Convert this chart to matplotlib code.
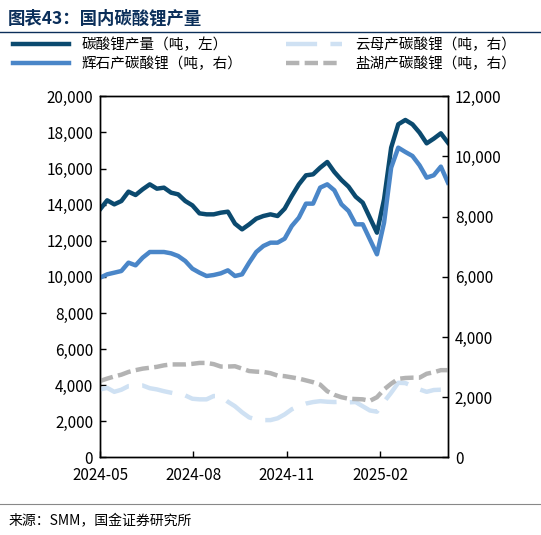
import matplotlib
matplotlib.use("Agg")
import matplotlib.pyplot as plt
import matplotlib.dates as mdates
import numpy as np
import pandas as pd

plt.rcParams['font.family'] = ['Noto Sans CJK SC', 'DejaVu Sans']

dates = pd.date_range("2024-05-01", periods=50, freq="7D")
carbonate = [13740,14238,14016,14200,14718,14533,14850,15124,14884,14940,14663,14570,14200,13960,13517,13462,13462,13554,13610,12945,
             12630,12908,13222,13370,13462,13370,13776,14478,15124,15623,15678,16047,16362,15808,15364,14995,14441,14108,13277,12446,
             14293,17156,18449,18689,18449,17987,17395,17654,17950,17433]
spodumene = [5973,6084,6139,6195,6472,6383,6638,6826,6826,6826,6782,6693,6527,6272,6139,6028,6061,6117,6217,6028,
             6084,6472,6826,7026,7136,7136,7269,7690,7967,8433,8433,8965,9075,8876,8411,8189,7746,7746,7247,6749,
             7801,9629,10294,10150,10017,9707,9297,9375,9663,9131]
lepidolite = [2260,2310,2180,2250,2370,2380,2390,2300,2260,2200,2150,2100,2060,1950,1930,1930,2040,2040,1850,1700,
              1500,1330,1260,1240,1240,1300,1430,1600,1710,1790,1840,1870,1850,1840,1850,1830,1840,1700,1560,1520,
              1850,2150,2480,2470,2370,2260,2180,2240,2250,np.nan]
saltlake = [2540,2620,2690,2750,2840,2900,2950,2980,3010,3060,3090,3090,3090,3110,3140,3140,3100,3020,3020,3030,
            2950,2870,2850,2840,2800,2720,2700,2660,2620,2560,2500,2420,2200,2080,2000,1950,1940,1930,1880,2000,
            2260,2450,2610,2640,2650,2650,2780,2830,2900,2900]
left_ticks = [0, 2000, 4000, 6000, 8000, 10000, 12000, 14000, 16000, 18000, 20000]
right_ticks = [0, 2000, 4000, 6000, 8000, 10000, 12000]
xtick_dates = ["2024-05-01", "2024-08-01", "2024-11-01", "2025-02-01"]

c_dark, c_mid, c_light, c_grey = "#0B4A6F", "#4A86C8", "#CFE1F3", "#B3B3B3"

fig = plt.figure(figsize=(5.41, 5.35), dpi=100)
ax = fig.add_axes([0.185, 0.145, 0.643, 0.675])
ax2 = ax.twinx()

l1, = ax.plot(dates, carbonate, color=c_dark, lw=3.2, label="碳酸锂产量（吨，左）")
l3, = ax2.plot(dates, spodumene, color=c_mid, lw=3.2, label="辉石产碳酸锂（吨，右）")
l2, = ax2.plot(dates, lepidolite, color=c_light, lw=3.2, dashes=(7, 3), label="云母产碳酸锂（吨，右）")
l4, = ax2.plot(dates, saltlake, color=c_grey, lw=3.2, dashes=(3, 1.2), label="盐湖产碳酸锂（吨，右）")

ax.set_ylim(0, 20000)
ax2.set_ylim(0, 12000)
ax.set_yticks(left_ticks)
ax2.set_yticks(right_ticks)
ax.yaxis.set_major_formatter(matplotlib.ticker.StrMethodFormatter("{x:,.0f}"))
ax2.yaxis.set_major_formatter(matplotlib.ticker.StrMethodFormatter("{x:,.0f}"))
ax.set_xlim(dates[0], dates[-1])
ax.set_xticks(pd.to_datetime(xtick_dates))
ax.xaxis.set_major_formatter(mdates.DateFormatter("%Y-%m"))
for a in (ax, ax2):
    a.tick_params(direction="in", labelsize=11, length=4, width=1, pad=5)
    for s in a.spines.values():
        s.set_linewidth(1)
ax.tick_params(axis="x", direction="in", pad=7)

fig.legend(handles=[l1, l3, l2, l4], loc="upper left", bbox_to_anchor=(0.0, 0.955),
           ncol=2, frameon=False, fontsize=10.5, handlelength=3.8, columnspacing=3.0,
           handletextpad=0.9, labelspacing=0.35)

fig.text(0.015, 0.965, "图表43：国内碳酸锂产量", fontsize=12.5, fontweight="bold",
         fontstyle="italic", color="#0B2F5A", va="center")
fig.add_artist(plt.Line2D([0.0, 1.0], [0.94, 0.94], color="#0B2F5A", lw=1))
fig.add_artist(plt.Line2D([0.0, 1.0], [0.058, 0.058], color="#888888", lw=0.8))
fig.text(0.015, 0.025, "来源：SMM，国金证券研究所", fontsize=10, va="center")

fig.savefig("out.png", dpi=100)
